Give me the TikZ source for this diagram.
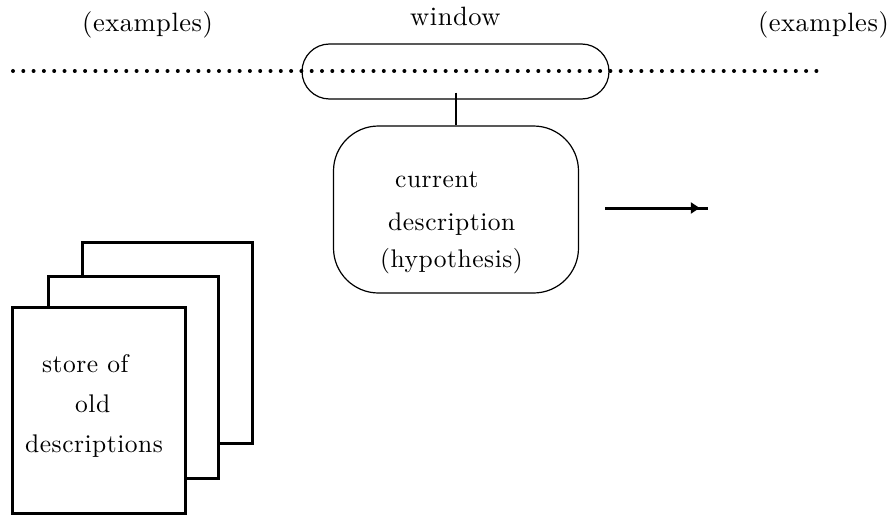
\documentclass[tikz,border=0pt]{standalone}
\usepackage{fontspec}
\setmainfont{lmroman10-regular.otf}[LetterSpace=2]
\usetikzlibrary{arrows.meta,decorations.markings}
\begin{document}
\begin{tikzpicture}[x=1pt,y=-1pt,
  txt/.style={inner sep=0pt,anchor=base west,font=\fontsize{25.5}{30}\selectfont},
  toptxt/.style={inner sep=0pt,anchor=base west,font=\fontsize{26.5}{30}\selectfont},
  thinbox/.style={draw,line width=1.2pt,inner sep=0pt},
  page/.style={draw,fill=white,line width=3pt,line join=miter,inner sep=0pt},
  dotline/.style={line width=4pt,line cap=round,dash pattern=on 0pt off 10.3pt},
  thickarrow/.style={line width=3pt,postaction={decorate},
    decoration={markings,mark=at position 0.92 with {\arrow{Triangle[length=9pt,width=11pt]}}}}]
\useasboundingbox (0,0) rectangle (890,516);
% labels on top
\node[toptxt] (exl) at (82,32) {(examples)};
\node[toptxt,anchor=base east] (exr) at (889,32) {(examples)};
\node[toptxt] (win) at (410,26) {window};
% dotted line of examples
\coordinate (dl) at (13,71);
\coordinate (dr) at (822,71);
\draw[dotline] (dl) -- (dr);
% window
\node[thinbox,rounded corners=27.5pt,minimum width=307pt,minimum height=55pt] (window) at (455.5,71.5) {};
% current description
\node[thinbox,rounded corners=45pt,minimum width=245pt,minimum height=167pt] (cur) at (456,209.5) {};
\draw[line width=1.2pt] ([yshift=7pt]cur.north |- window.south) -- (cur.north);
\node[txt] (t1) at (395,187) {current};
\node[txt] (t2) at (388,230) {description};
\node[txt] (t3) at (380,267) {(hypothesis)};
% arrow
\coordinate (a1) at (605,208);
\coordinate (a2) at (708,208);
\draw[thickarrow] (a1) -- (a2);
% store of old descriptions
\node[page,minimum width=170pt,minimum height=201pt] (p3) at (167,342.5) {};
\node[page,minimum width=170pt,minimum height=202pt] (p2) at (133,377) {};
\node[page,minimum width=173pt,minimum height=206pt] (p1) at (98.5,410) {};
\node[txt] (s1) at (42,372) {store of};
\node[txt] (s2) at (75,412) {old};
\node[txt] (s3) at (25,452) {descriptions};
\end{tikzpicture}
\end{document}
